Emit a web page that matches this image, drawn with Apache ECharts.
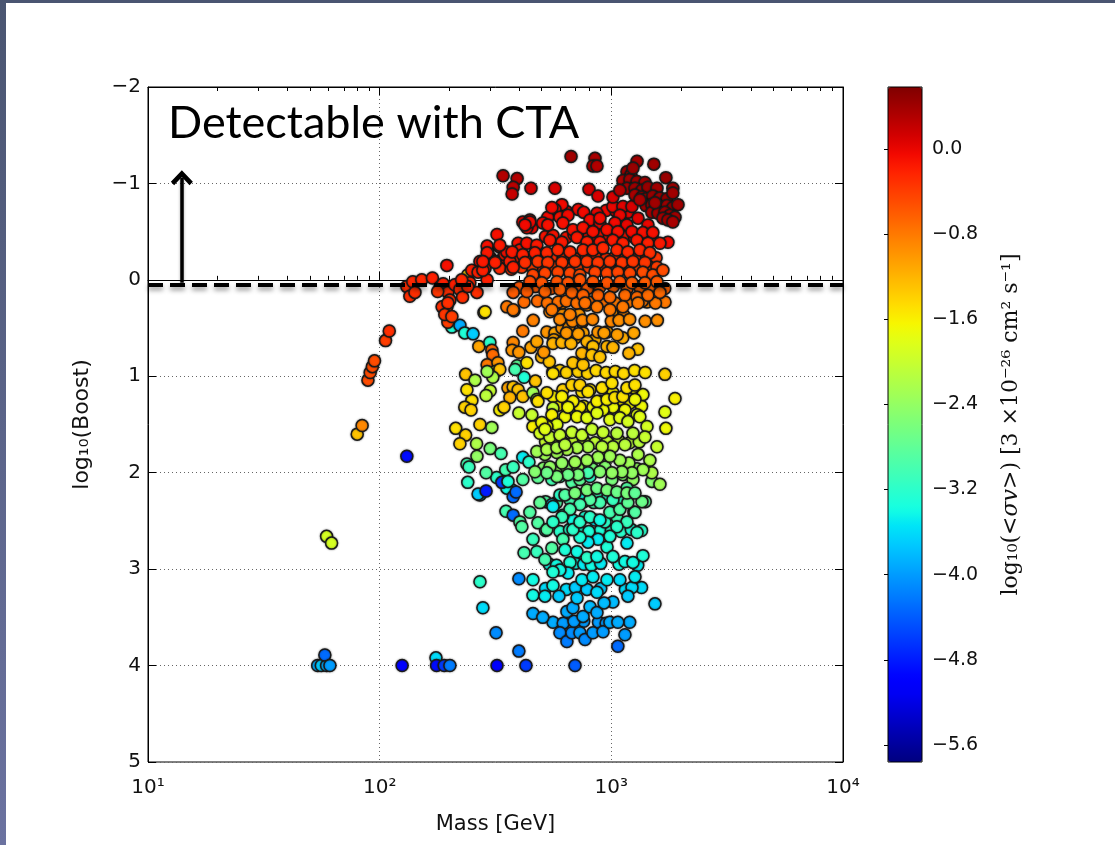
<!DOCTYPE html>
<html><head><meta charset="utf-8">
<script src="https://cdn.jsdelivr.net/npm/echarts@6.0.0/dist/echarts.min.js"></script>
<style>html,body{margin:0;padding:0;background:#fff}#c{width:1115px;height:845px}</style>
</head><body><div id="c"></div>
<script>
// ---- data: [mass GeV, log10(Boost), log10(<sigma v>)] ----
const edgePoints = [
[54,4.00,-3.9],[56,4.00,-3.7],[59,4.00,-3.9],[58,3.89,-4.3],[61,4.00,-4.0],
[59,2.66,-1.9],[62,2.73,-1.9],
[80,1.60,-1.3],[84,1.51,-0.9],
[89,1.04,-0.5],[91,0.96,-0.5],[93,0.90,-0.5],[95,0.84,-0.5],
[106,0.63,-0.4],[110,0.53,-0.3],
[131,1.83,-4.9],
[125,4.00,-5.0],[175,3.92,-3.6],[176,4.00,-4.9],[190,4.00,-4.6],[201,4.00,-4.2],[321,4.00,-5.0],[428,4.00,-4.6],[697,4.00,-4.4]
];
const redBand = [
[131,0.07,-0.3],[135,0.17,-0.3],[139,0.02,-0.25],[152,0.00,-0.25],[169,-0.02,-0.2],[182,0.08,-0.3],[195,-0.15,-0.1],[188,0.04,-0.2],
[197,0.13,-0.3],[201,0.21,-0.3],[195,0.28,-0.4],[178,0.12,-0.35],[211,0.05,-0.2],[222,0.10,-0.3],[228,0.18,-0.3],[240,-0.05,-1.4],
[245,0.03,-0.25],[263,0.13,-0.3],[250,-0.10,-0.2],[271,-0.19,-0.1],[266,-0.08,-0.2],[285,-0.12,-0.2],[299,-0.23,-0.1],[293,-0.31,-0.1],
[291,-0.35,-0.1],[321,-0.47,-0.1],[330,-0.34,-0.1],[315,-0.19,-0.2],[347,-0.26,-0.15],[354,-0.29,-0.1],[365,-0.19,-0.2],[396,-0.38,-0.1],
[403,-0.31,-0.15],[432,-0.38,-0.1],[424,-0.23,-0.3],[415,-0.60,0.0],[445,-0.62,0.0],[454,-0.54,0.0],[432,-0.54,0.0],
[186,0.28,-0.3],[197,0.24,-0.3],[197,0.44,-0.4],[191,0.36,-0.35],
[142,0.13,-0.3],[205,0.38,-0.4],[240,0.07,-0.25],[291,0.00,-0.2],[377,-0.13,-0.2],[279,-0.10,-0.2],[226,0.00,-0.25],[285,0.33,-1.5],
[612,-0.78,-0.05],[571,-0.73,-0.05],[532,-0.65,-0.05],[600,-0.65,-0.1],[650,-0.67,-0.05],[867,-0.69,0.0],[809,-0.62,-0.05],[893,-0.59,-0.05],
[1016,-0.76,0.0],[1122,-0.76,0.05],[1228,-0.76,0.1],[1089,-0.67,0.0],[1036,-0.59,-0.05],[1168,-0.57,0.0],[1304,-0.64,0.05],[1439,-0.57,0.0],[1755,-0.39,-0.05],
[554,-0.75,-0.05],[893,-0.64,-0.05],
[445,-0.60,-0.05],[424,-0.57,-0.05],[506,-0.59,-0.05],[532,-0.57,-0.1],[618,-0.59,-0.1],[683,-0.52,-0.1],[755,-0.54,-0.1],[833,-0.50,-0.1],
[958,-0.52,-0.1],[1067,-0.50,-0.1],[1228,-0.50,-0.05],[1369,-0.49,-0.1],[1511,-0.49,-0.1],
[330,-0.36,-0.15],[477,-0.36,-0.15],[543,-0.41,-0.15],[612,-0.39,-0.15],[711,-0.44,-0.15],[785,-0.39,-0.2],[893,-0.39,-0.15],[1016,-0.41,-0.15],
[1122,-0.38,-0.2],[1291,-0.41,-0.15],[1439,-0.38,-0.2],[1621,-0.38,-0.15],
[291,-0.28,-0.15],[373,-0.29,-0.15],[415,-0.26,-0.2],[468,-0.28,-0.2],[527,-0.28,-0.25],[588,-0.31,-0.25],[663,-0.29,-0.25],[755,-0.31,-0.25],
[833,-0.31,-0.25],[921,-0.33,-0.25],[1057,-0.31,-0.25],[1179,-0.29,-0.25],[1328,-0.31,-0.25],[1467,-0.28,-0.3],
[279,-0.19,-0.15],[315,-0.18,-0.2],[424,-0.18,-0.3],[482,-0.19,-0.35],[532,-0.18,-0.35],[612,-0.18,-0.35],[697,-0.19,-0.35],[785,-0.19,-0.35],
[876,-0.18,-0.35],[986,-0.19,-0.35],[1111,-0.18,-0.35],[1240,-0.19,-0.35],[1397,-0.18,-0.35],[1574,-0.13,-0.4],
[459,-0.05,-0.45],[517,-0.07,-0.45],[588,-0.08,-0.45],[663,-0.07,-0.45],[732,-0.05,-0.5],[850,-0.08,-0.45],[958,-0.07,-0.45],[1067,-0.08,-0.45],
[1203,-0.07,-0.45],[1369,-0.08,-0.5],[1511,-0.05,-0.5],[1670,-0.10,-0.5],
[445,0.02,-0.5],[501,0.03,-0.55],[582,0.02,-0.55],[650,0.03,-0.55],[732,0.00,-0.55],[833,0.02,-0.55],[958,0.03,-0.55],[1089,0.02,-0.55],
[1228,0.03,-0.6],[1397,0.03,-0.6],[1574,0.02,-0.6],
[377,0.13,-0.6],[432,0.12,-0.6],[517,0.12,-0.65],[600,0.10,-0.65],[676,0.13,-0.65],[755,0.16,-0.65],[876,0.16,-0.65],[986,0.18,-0.7],
[1145,0.16,-0.7],[1291,0.18,-0.7],[1439,0.16,-0.7],[1621,0.13,-0.7],
[354,0.28,-0.8],[377,0.31,-0.8],[554,0.31,-0.8],[663,0.36,-0.85],[770,0.24,-0.75],[867,0.28,-0.8],[986,0.31,-0.8],[1122,0.28,-0.8],[1304,0.24,-0.8]
];
const redBandFill = [
[580,-0.72,-0.05],[640,-0.71,-0.05],[720,-0.73,-0.05],[760,-0.70,-0.05],[950,-0.72,-0.05],[1050,-0.71,0.0],[1180,-0.70,0.0],
[520,-0.45,-0.12],[560,-0.46,-0.12],[640,-0.44,-0.12],[690,-0.47,-0.12],[740,-0.45,-0.12],[800,-0.46,-0.12],[870,-0.45,-0.12],
[920,-0.47,-0.12],[980,-0.44,-0.12],[1050,-0.46,-0.12],[1150,-0.45,-0.12],[1260,-0.44,-0.12],[1350,-0.46,-0.12],[1500,-0.44,-0.15],
[300,-0.23,-0.2],[340,-0.22,-0.2],[390,-0.24,-0.25],[440,-0.23,-0.25],[500,-0.22,-0.3],[560,-0.24,-0.3],[620,-0.23,-0.3],[700,-0.22,-0.3],
[780,-0.24,-0.3],[860,-0.23,-0.3],[950,-0.22,-0.3],[1040,-0.24,-0.3],[1150,-0.23,-0.3],[1290,-0.22,-0.3],[1420,-0.24,-0.3],[1560,-0.23,-0.35],
[330,-0.12,-0.25],[370,-0.11,-0.3],[410,-0.13,-0.35],[460,-0.12,-0.4],[510,-0.11,-0.4],[570,-0.13,-0.4],[640,-0.12,-0.4],[720,-0.11,-0.4],
[800,-0.13,-0.4],[900,-0.12,-0.4],[1000,-0.11,-0.4],[1100,-0.13,-0.4],[1200,-0.12,-0.45],[1320,-0.11,-0.45],[1460,-0.13,-0.45],
[400,0.08,-0.55],[470,0.07,-0.6],[550,0.09,-0.6],[620,0.08,-0.6],[700,0.07,-0.6],[790,0.09,-0.6],[890,0.08,-0.6],[1020,0.07,-0.65],
[1170,0.09,-0.65],[1330,0.08,-0.65],[1500,0.07,-0.65],[1700,0.09,-0.65],
[420,0.23,-0.7],[480,0.22,-0.7],[530,0.24,-0.75],[590,0.23,-0.75],[640,0.22,-0.75],[710,0.24,-0.75],[800,0.23,-0.75],[920,0.22,-0.75],
[1040,0.24,-0.8],[1180,0.23,-0.8],[1360,0.22,-0.8],[1550,0.24,-0.8],
[460,0.42,-0.85],[600,0.41,-0.9],[680,0.43,-0.9],[750,0.42,-0.9],[830,0.41,-0.9],[1000,0.43,-0.9],[1080,0.42,-0.95],[1200,0.41,-0.95],
[1400,0.43,-0.95],[1580,0.42,-0.95],
[640,0.55,-1.0],[720,0.56,-1.05],[930,0.55,-1.05],[1060,0.57,-1.05],[1250,0.55,-1.1]
];
const darkCluster = [
[341,-1.08,0.3],[392,-1.05,0.3],[377,-0.96,0.25],[373,-0.89,0.2],[450,-0.95,0.15],[571,-0.95,0.1],[801,-0.94,0.15],[876,-0.87,0.1],[1016,-0.86,0.1],
[670,-1.28,0.4],[850,-1.26,0.35],[833,-1.18,0.35],[867,-1.18,0.3],[1291,-1.23,0.4],[1526,-1.20,0.4],
[1168,-1.12,0.4],[1215,-1.09,0.4],[1122,-1.03,0.35],[1203,-1.04,0.4],[1291,-1.02,0.4],[1397,-1.01,0.4],[1168,-0.95,0.35],[1265,-0.95,0.4],
[1356,-0.93,0.4],[1439,-0.96,0.45],[1574,-0.95,0.4],[1720,-1.06,0.45],[1843,-0.95,0.4],[1265,-0.88,0.35],[1356,-0.86,0.4],[1411,-0.84,0.4],
[1511,-0.87,0.45],[1621,-0.85,0.4],[1738,-0.84,0.45],[1843,-0.90,0.4],[1411,-0.77,0.4],[1496,-0.78,0.4],[1621,-0.76,0.45],[1738,-0.77,0.4],
[1843,-0.75,0.45],[1940,-0.78,0.4],[1496,-0.70,0.35],[1590,-0.69,0.4],[1704,-0.70,0.4],[1790,-0.67,0.4],[1883,-0.65,0.35],[1670,-0.64,0.35],
[1755,-0.62,0.4],[1843,-0.60,0.35],[1328,-0.83,0.35],[1543,-0.80,0.4],[1089,-0.93,0.3],[1240,-1.16,0.45]
];
const midBand = [
[282,0.34,-1.5],[380,0.32,-0.8],[205,0.49,-3.3],[222,0.47,-3.9],[233,0.55,-3.3],[253,0.56,-3.7],[268,0.69,-1.1],[299,0.65,-3.2],
[305,0.73,-0.7],[308,0.78,-0.7],[291,0.88,-0.8],[324,0.86,-1.0],[377,0.65,-0.9],[373,0.73,-1.0],[399,0.75,-1.0],[415,0.53,-0.8],
[477,0.64,-1.1],[511,0.75,-1.0],[543,0.33,-0.9],[527,0.54,-1.0],[571,0.55,-1.1],[565,0.62,-1.1],[618,0.36,-1.0],[618,0.44,-1.0],
[612,0.50,-1.0],[656,0.49,-1.0],[690,0.39,-1.0],[747,0.44,-1.0],[725,0.36,-1.0],[560,0.66,-1.2],[612,0.65,-1.2],[670,0.66,-1.2],
[755,0.55,-1.1],[785,0.64,-1.2],[833,0.69,-1.3],[876,0.54,-1.0],[683,0.86,-1.3],[755,0.88,-1.3],[747,0.76,-1.2],[825,0.78,-1.3],
[893,0.80,-1.3],[958,0.69,-1.2],[1016,0.70,-1.2],[958,0.54,-1.1],[1133,0.37,-0.9],[1191,0.76,-1.2],[1704,0.98,-1.4],[1883,1.23,-1.6],
[1704,1.37,-1.8],[1720,1.54,-1.7],[1006,0.34,-1.0],[867,0.24,-0.9],[785,0.26,-0.9],[1425,0.23,-0.9],[1704,0.23,-0.8],[612,0.24,-0.9],
[235,0.98,-1.3],[258,1.04,-2.2],[238,1.14,-1.5],[288,1.20,-2.1],[233,1.32,-1.4],[248,1.35,-1.4],[213,1.54,-1.5],[235,1.61,-1.4],
[222,1.70,-1.4],[271,1.50,-1.4],[305,1.53,-2.3],[263,1.83,-2.4],[238,1.91,-3.0],[243,1.94,-3.1],[288,2.00,-2.9],[240,2.10,-3.2],
[266,2.22,-3.7],[334,1.80,-3.0],[377,1.94,-3.1],[415,1.84,-3.5],[441,1.89,-3.2],[337,2.10,-4.6],[358,2.09,-3.3],[388,2.20,-4.3],[288,2.19,-4.8],
[358,1.12,-1.1],[377,1.11,-1.3],[396,1.14,-1.3],[365,1.22,-1.2],[415,1.21,-1.3],[344,1.32,-1.4],[392,0.89,-2.8],[432,0.86,-1.5],
[420,1.01,-3.3],[384,0.93,-3.0],[315,0.95,-2.0],[330,0.93,-1.3],[308,1.01,-2.2],[291,0.95,-2.3],[459,1.17,-2.3],[477,1.24,-2.2],
[560,0.97,-1.5],[560,1.21,-1.6],[459,1.52,-1.6],[560,1.33,-2.0],[618,1.14,-1.4],[676,1.09,-1.4],[747,1.16,-1.5],[809,1.14,-1.5],
[893,1.26,-1.6],[1016,1.17,-1.6],[1089,1.24,-1.6],[1240,1.12,-1.6],[1369,1.19,-1.7],[1145,1.35,-1.7],[1265,1.24,-1.7],[1291,1.40,-1.8],
[1016,1.32,-1.7],[921,1.35,-1.7],[833,1.32,-1.7],[732,1.32,-1.6],[683,1.26,-1.6],[631,1.42,-1.7],[711,1.42,-1.7],[785,1.43,-1.8],
[867,1.38,-1.8],[986,1.45,-1.8],[1089,1.43,-1.8],[1179,1.47,-1.9],[1328,1.42,-1.8],[1425,1.52,-1.9],[554,1.40,-1.6],[582,1.50,-1.8],
[527,1.52,-1.7],[492,1.59,-1.9],[543,1.63,-2.0],[600,1.61,-2.0],[676,1.58,-2.0],[747,1.61,-2.0],[825,1.55,-2.0],[921,1.58,-2.0],
[1057,1.59,-2.1],[1240,1.59,-2.1],[1397,1.63,-2.0],[1574,1.73,-2.0],[1016,1.73,-2.1],[1145,1.71,-2.1],[912,1.73,-2.1],[793,1.73,-2.2],
[711,1.74,-2.2],[643,1.76,-2.2],[582,1.79,-2.3],[517,1.81,-2.3],[477,1.78,-2.3],[1467,1.87,-2.2],[1304,1.81,-2.2],[1191,1.90,-2.3],
[1089,1.87,-2.3],[986,1.83,-2.3],[876,1.84,-2.3],[785,1.87,-2.3],[697,1.89,-2.3],[612,1.90,-2.4],[543,1.94,-2.4],
[1621,2.12,-2.3],[1496,2.00,-2.2],[1369,1.97,-2.3],[1228,2.00,-2.4],[1111,1.99,-2.4],[1006,2.00,-2.4],[893,1.99,-2.5],[793,2.00,-3.0],
[718,2.02,-2.6],[650,2.02,-2.7],[582,2.04,-2.6],[527,2.00,-2.7],[468,1.99,-2.5],
[482,1.26,-1.5],[399,1.38,-2.0],[454,1.40,-2.0],[501,1.48,-1.7],[517,1.55,-1.8],[527,1.76,-2.2],[582,1.74,-2.2],[631,1.71,-2.1],
[867,1.26,-1.6],[958,1.24,-1.6],[1036,1.22,-1.5],[1122,1.21,-1.5],[612,1.21,-1.6],[650,1.32,-1.7],[732,1.09,-1.4],[793,1.16,-1.5],
[912,1.12,-1.5],[1006,1.07,-1.5],[1168,1.12,-1.5],[1265,1.09,-1.5],[527,1.17,-1.5]
];
const midBandFill = [
[560,0.95,-1.4],[600,0.94,-1.4],[640,0.96,-1.4],[720,0.95,-1.4],[790,0.97,-1.4],[860,0.94,-1.45],[950,0.96,-1.45],[1040,0.95,-1.45],
[1130,0.97,-1.45],[1260,0.94,-1.5],[1400,0.96,-1.5],
[590,1.30,-1.6],[650,1.29,-1.6],[760,1.31,-1.6],[1150,1.30,-1.65],[1200,1.28,-1.65],[1350,1.31,-1.7],
[520,1.68,-2.0],[560,1.67,-2.0],[620,1.69,-2.0],[690,1.68,-2.0],[760,1.67,-2.05],[850,1.69,-2.05],[960,1.68,-2.05],[1080,1.67,-2.1],
[1200,1.69,-2.1],[1320,1.68,-2.1],
[510,1.95,-2.5],[580,1.96,-2.4],[640,1.94,-2.5],[720,1.95,-2.4],[830,1.96,-2.6],[940,1.94,-2.5],[1160,1.95,-2.4],[1290,1.96,-2.4],
[250,1.25,-1.5],[262,1.70,-2.2],[300,1.75,-2.6],[320,2.05,-3.2],[350,1.97,-3.0],[330,1.35,-1.6],[300,1.15,-2.0],[470,1.05,-1.3],
[500,0.80,-1.2],[450,0.70,-1.1],[540,0.85,-1.3],[700,0.60,-1.15],[850,0.62,-1.2],[1120,0.60,-1.15],[1300,0.72,-1.3]
];
const lowBand = [
[373,2.18,-3.1],[415,2.07,-2.9],[482,2.05,-2.8],[554,2.07,-3.0],[600,2.04,-3.0],[711,2.02,-3.2],[676,2.10,-2.9],[732,2.07,-2.8],
[809,2.04,-3.2],[1006,2.07,-2.6],[1122,2.02,-2.5],[1240,2.07,-2.4],[554,2.33,-3.6],[600,2.23,-3.2],[663,2.28,-3.0],[732,2.23,-3.4],
[876,2.20,-3.1],[967,2.25,-3.2],[1057,2.21,-3.0],[1168,2.16,-2.9],[1122,2.30,-3.1],[1252,2.41,-3.0],[939,2.51,-3.2],[850,2.49,-3.5],
[770,2.46,-3.3],[683,2.49,-3.4],[618,2.44,-3.3],[1057,2.46,-3.0],
[271,2.23,-3.6],[354,2.16,-3.4],[377,2.25,-4.3],[351,2.40,-3.0],[377,2.44,-4.3],[403,2.51,-2.9],[411,2.56,-2.9],[445,2.41,-2.9],
[482,2.52,-2.9],[492,2.31,-2.8],[527,2.59,-2.9],[560,2.35,-3.5],[554,2.78,-2.9],[459,2.69,-3.1],[420,2.83,-3.0],[477,2.82,-3.1],
[517,2.90,-3.0],[618,2.69,-3.0],[631,2.80,-3.3],[711,2.82,-3.4],[785,2.88,-3.2],[663,2.93,-3.3],[867,2.87,-3.4],[958,2.77,-3.3],
[1016,2.87,-3.3],[1145,2.92,-3.4],[1240,2.93,-3.4],[1369,2.86,-3.3],[1168,2.73,-3.5],[1291,2.62,-3.2],[1265,2.41,-2.9],[1356,2.30,-2.7],
[1168,2.51,-3.1],[1057,2.56,-3.2],[986,2.66,-3.3],[876,2.69,-3.5],[793,2.72,-3.5],[732,2.67,-3.3],[683,2.59,-3.2],[732,2.51,-3.2],
[809,2.46,-3.2],[893,2.49,-3.4],[986,2.41,-3.0],[1089,2.38,-2.9],[1179,2.31,-2.8],[1016,2.28,-3.1],[893,2.31,-3.0],[809,2.28,-2.9],
[732,2.33,-3.0],[663,2.38,-3.0],[612,2.46,-3.1],[560,2.51,-3.2],[631,2.23,-2.9],[697,2.21,-2.6],[785,2.18,-2.6],[867,2.16,-2.7],
[958,2.18,-2.6],[1057,2.20,-2.7],[1168,2.21,-2.6],[1265,2.21,-2.8],[1496,2.09,-2.5],
[271,3.13,-3.2],[279,3.40,-3.6],[318,3.66,-4.1],[399,3.85,-4.2],[399,3.10,-4.1],[459,3.11,-3.4],[459,3.27,-3.4],[517,3.28,-3.5],
[459,3.46,-3.9],[506,3.50,-3.9],[560,3.17,-3.4],[594,3.28,-3.7],[600,3.66,-4.1],[643,3.75,-4.2],[676,3.66,-4.1],[690,3.54,-4.0],
[643,3.44,-3.9],[683,3.40,-3.9],[732,3.66,-4.0],[770,3.73,-4.1],[833,3.66,-4.0],[921,3.65,-4.0],[986,3.55,-3.9],[1067,3.55,-3.9],
[1145,3.68,-4.0],[1067,3.80,-4.3],[1543,3.36,-3.7],[1228,3.19,-3.6],[1179,3.28,-3.7],[1265,3.08,-3.5],[1016,3.34,-3.8],[755,3.49,-3.9],
[809,3.39,-3.8],[867,3.45,-3.9],[930,3.35,-3.8],[785,3.21,-3.7],[867,3.24,-3.6],[711,3.30,-3.7],[747,3.11,-3.5],[833,3.08,-3.5],
[958,3.11,-3.5],[1089,3.11,-3.6],[650,3.04,-3.5],[600,3.01,-3.4],[560,3.03,-3.3]
];
const lowBandFill = [
[520,2.30,-2.9],[580,2.31,-2.9],[700,2.29,-3.0],[760,2.30,-2.9],[840,2.31,-3.0],[1060,2.29,-3.0],[1400,2.30,-2.8],
[520,2.60,-3.2],[600,2.61,-3.2],[660,2.59,-3.2],[720,2.60,-3.3],[800,2.61,-3.3],[900,2.59,-3.3],[1000,2.60,-3.2],[1100,2.61,-3.2],
[1220,2.59,-3.3],[1350,2.60,-3.2],
[540,2.95,-3.4],[580,2.96,-3.4],[700,2.94,-3.4],[760,2.95,-3.5],[820,2.96,-3.4],[900,2.94,-3.5],[1080,2.95,-3.4],[1300,2.96,-3.5],
[520,3.20,-3.6],[640,3.21,-3.6],[700,3.19,-3.7],[900,3.20,-3.7],[1150,3.21,-3.6],[1350,3.19,-3.6],
[560,3.55,-3.9],[620,3.56,-4.0],[760,3.54,-4.0],[880,3.55,-4.0],[950,3.56,-4.0],[1200,3.55,-3.9]
];

// ---- reference lines / annotation values ----
const thresholdBoost = 0.05;           // dashed CTA line
const arrowMass = 14;                  // arrow position
const arrowFrom = 0.03, arrowTo = -1.06;
const annotationText = 'Detectable with CTA';

// ---- tick labels ----
const xMajorTicks = [10, 100, 1000, 10000];
const xMinorTicks = [20,30,40,50,60,70,80,90,200,300,400,500,600,700,800,900,2000,3000,4000,5000,6000,7000,8000,9000];
const cbarTicks = [-5.6,-4.8,-4.0,-3.2,-2.4,-1.6,-0.8,0.0];
const cbarMin = -5.76, cbarMax = 0.58;

// jet colormap (matplotlib)
function jet(t){
  function seg(pts){for(let i=1;i<pts.length;i++){if(t<=pts[i][0]){const a=pts[i-1],b=pts[i];return a[1]+(b[1]-a[1])*(t-a[0])/(b[0]-a[0]);}}return pts[pts.length-1][1];}
  const r=seg([[0,0],[0.35,0],[0.66,1],[0.89,1],[1,0.5]]);
  const g=seg([[0,0],[0.125,0],[0.375,1],[0.64,1],[0.91,0],[1,0]]);
  const b=seg([[0,0.5],[0.11,1],[0.34,1],[0.65,0],[1,0]]);
  const h=v=>('0'+Math.round(v*255).toString(16)).slice(-2);
  return '#'+h(r)+h(g)+h(b);
}
const jetColors=[];for(let i=0;i<=40;i++)jetColors.push(jet(i/40));

const allPoints = [].concat(edgePoints, lowBandFill, lowBand, midBandFill, midBand, redBandFill, redBand, darkCluster);
const minus = v => (v<0?'\u2212':'') + Math.abs(v);
const sup = {1:'\u00b9',2:'\u00b2',3:'\u00b3',4:'\u2074'};
const tickFont = "'DejaVu Sans', sans-serif";

const chart = echarts.init(document.getElementById('c'), null, {renderer:'canvas'});
const G = {left:148, top:87, width:695, height:675};
const C = {left:888, top:87, width:34, height:675};

const logAxisBase = {type:'log', logBase:10, min:10, max:10000, gridIndex:0};
chart.setOption({
  animation:false,
  backgroundColor:'#fff',
  title:{text:annotationText,left:163,top:96,textStyle:{fontFamily:'Lato, sans-serif',fontSize:45,fontWeight:'normal',color:'#000'}},
  grid:[
    Object.assign({show:true,borderColor:'#000',borderWidth:1,backgroundColor:'transparent'},G),
    Object.assign({show:false},C)
  ],
  xAxis:[
    Object.assign({}, logAxisBase, {position:'bottom', interval:1,
      name:'Mass [GeV]', nameLocation:'middle', nameGap:52,
      nameTextStyle:{fontFamily:tickFont,fontSize:21,color:'#111'},
      axisLine:{show:true,lineStyle:{color:'#000',width:1}},
      axisTick:{show:true,inside:true,length:8,lineStyle:{color:'#000'},customValues:xMajorTicks},
      axisLabel:{show:true,margin:16,fontFamily:tickFont,fontSize:20,color:'#111',customValues:xMajorTicks,
        formatter:v=>'10'+sup[Math.round(Math.log10(v))]},
      splitLine:{show:true,lineStyle:{color:'#666',type:[1,3],width:1}}}),
    Object.assign({}, logAxisBase, {position:'bottom',
      axisLine:{show:false},axisLabel:{show:false},splitLine:{show:false},
      axisTick:{show:true,inside:true,length:4,lineStyle:{color:'#000'},customValues:xMinorTicks}}),
    Object.assign({}, logAxisBase, {position:'top', interval:1,
      axisLine:{show:true,lineStyle:{color:'#000'}},axisLabel:{show:false},splitLine:{show:false},
      axisTick:{show:true,inside:true,length:8,lineStyle:{color:'#000'},customValues:xMajorTicks}}),
    Object.assign({}, logAxisBase, {position:'top',
      axisLine:{show:false},axisLabel:{show:false},splitLine:{show:false},
      axisTick:{show:true,inside:true,length:4,lineStyle:{color:'#000'},customValues:xMinorTicks}}),
    {type:'value',gridIndex:1,show:false,min:0,max:1}
  ],
  yAxis:[
    {type:'value',gridIndex:0,inverse:true,min:-2,max:5,interval:1,position:'left',
      name:'log\u2081\u2080(Boost)',nameLocation:'middle',nameGap:55,nameRotate:90,
      nameTextStyle:{fontFamily:tickFont,fontSize:22,color:'#111'},
      axisLine:{show:true,lineStyle:{color:'#000'}},
      axisTick:{show:true,inside:true,length:8,lineStyle:{color:'#000'}},
      axisLabel:{margin:7,fontFamily:tickFont,fontSize:20,color:'#111',formatter:minus},
      splitLine:{show:true,lineStyle:{color:'#666',type:[1,3],width:1}}},
    {type:'value',gridIndex:0,inverse:true,min:-2,max:5,interval:1,position:'right',
      axisLine:{show:true,lineStyle:{color:'#000'}},
      axisTick:{show:true,inside:true,length:8,lineStyle:{color:'#000'}},
      axisLabel:{show:false},splitLine:{show:false}},
    {type:'value',gridIndex:1,min:cbarMin,max:cbarMax,position:'right',
      name:'{a|log\u2081\u2080(<}{i|\u03c3v}{a|>) [3 \u00d710\u207b\u00b2\u2076 cm\u00b2 s\u207b\u00b9]}',
      nameLocation:'middle',nameGap:78,nameRotate:90,
      nameTextStyle:{rich:{a:{fontFamily:"'DejaVu Serif', serif",fontSize:22,color:'#111'},
                           i:{fontFamily:"'DejaVu Serif', serif",fontStyle:'italic',fontSize:22,color:'#111'}}},
      axisLine:{show:false},splitLine:{show:false},
      axisTick:{show:true,inside:true,length:4,lineStyle:{color:'#000'},customValues:cbarTicks},
      axisLabel:{margin:10,fontFamily:tickFont,fontSize:19,color:'#111',customValues:cbarTicks,
        formatter:v=>(v<0?'\u2212':'')+Math.abs(v).toFixed(1)}}
  ],
  visualMap:{type:'continuous',min:cbarMin,max:cbarMax,dimension:2,seriesIndex:0,calculable:false,
    hoverLink:false,left:C.left,top:C.top,itemWidth:C.width,itemHeight:C.height,padding:0,
    inRange:{color:jetColors}},
  graphic:[
    {type:'rect',shape:{x:0,y:0,width:1115,height:3},style:{fill:'#4a5571'},silent:true},
    {type:'rect',shape:{x:0,y:0,width:6,height:845},style:{fill:new echarts.graphic.LinearGradient(0,0,0,1,[{offset:0,color:'#4a5571'},{offset:1,color:'#6b72a0'}])},silent:true},
    {type:'rect',shape:{x:C.left,y:C.top,width:C.width,height:C.height},style:{fill:'none',stroke:'#000',lineWidth:1},z:100,silent:true}
  ],
  series:[
    {type:'scatter',xAxisIndex:0,yAxisIndex:0,data:allPoints,symbolSize:12,
      itemStyle:{borderColor:'#1a1a1a',borderWidth:1.5,opacity:1,shadowBlur:2,shadowColor:'rgba(0,0,0,0.45)'},
      markLine:{silent:true,symbol:['none','none'],label:{show:false},
        lineStyle:{color:'#000',width:4,type:[15,7],shadowBlur:5,shadowColor:'rgba(0,0,0,0.45)',shadowOffsetY:3},
        data:[{yAxis:thresholdBoost}],z:10}},
    {type:'line',xAxisIndex:0,yAxisIndex:0,data:[],
      markLine:{silent:true,symbol:['none','path://M10,0 L20,10 L17,13 L10,6 L3,13 L0,10 Z'],symbolSize:[22,15],
        label:{show:false},lineStyle:{color:'#000',width:3.5,type:'solid',shadowBlur:3,shadowColor:'rgba(0,0,0,0.35)'},
        data:[[{coord:[arrowMass,arrowFrom]},{coord:[arrowMass,arrowTo]}]]}}
  ]
});
</script></body></html>
